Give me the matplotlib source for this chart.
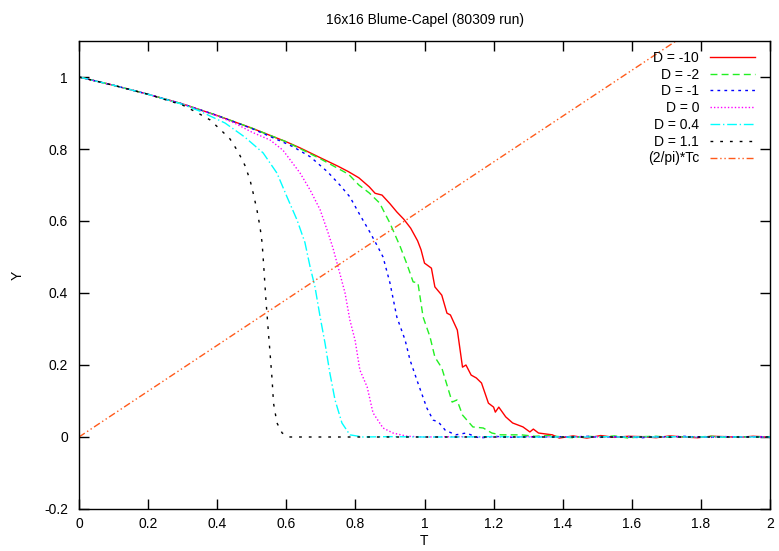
import numpy as np
import matplotlib.pyplot as plt

plt.rcParams['font.family'] = ['Liberation Sans', 'DejaVu Sans']

# shared flat tail T values
tail_T = [1.43, 1.47, 1.51, 1.55, 1.59, 1.63, 1.67, 1.71, 1.75, 1.79, 1.83, 1.87, 1.91, 1.95, 2.0]

# D = -10
T_r = [0, 0.1, 0.2, 0.3, 0.4, 0.5, 0.6, 0.64, 0.7, 0.75, 0.78, 0.81, 0.84, 0.857, 0.877,
       0.9, 0.92, 0.94, 0.96, 0.98, 0.99, 1.0, 1.02, 1.03, 1.05, 1.065, 1.075, 1.095, 1.11,
       1.12, 1.135, 1.15, 1.165, 1.185, 1.2, 1.205, 1.215, 1.235, 1.255, 1.285, 1.305, 1.315,
       1.33, 1.37, 1.39] + tail_T
Y_r = [1.0, 0.977, 0.952, 0.925, 0.893, 0.858, 0.82, 0.803, 0.775, 0.752, 0.737, 0.72, 0.695,
       0.677, 0.672, 0.648, 0.625, 0.605, 0.58, 0.545, 0.52, 0.483, 0.469, 0.417, 0.394, 0.344,
       0.339, 0.297, 0.194, 0.2, 0.172, 0.164, 0.15, 0.094, 0.083, 0.069, 0.083, 0.056, 0.039,
       0.028, 0.014, 0.022, 0.011, 0.006, -0.003,
       0.003, -0.003, 0.004, -0.001, 0.002, 0.001, -0.002, 0.003, 0.0, -0.002, 0.002, 0.001,
       -0.001, 0.002, 0.0]

# D = -2
T_g = [0, 0.1, 0.2, 0.3, 0.4, 0.5, 0.6, 0.7, 0.78, 0.81, 0.84, 0.87, 0.9, 0.93, 0.95, 0.967,
       0.981, 0.996, 1.016, 1.03, 1.05, 1.08, 1.094, 1.11, 1.14, 1.17, 1.195, 1.22, 1.28, 1.32,
       1.36, 1.4] + tail_T
Y_g = [1.0, 0.977, 0.952, 0.925, 0.893, 0.858, 0.82, 0.772, 0.73, 0.7, 0.678, 0.65, 0.594,
       0.528, 0.478, 0.431, 0.428, 0.333, 0.278, 0.222, 0.192, 0.097, 0.103, 0.061, 0.028,
       0.025, 0.011, 0.006, 0.006, 0.002, 0.004, 0.0,
       -0.002, 0.002, 0.0, 0.003, -0.003, 0.001, 0.002, -0.001, 0.001, 0.0, 0.002, -0.001,
       0.001, 0.0, 0.001]

# D = -1
T_b = [0, 0.1, 0.2, 0.3, 0.4, 0.5, 0.6, 0.62, 0.67, 0.72, 0.755, 0.784, 0.813, 0.842, 0.865,
       0.88, 0.9, 0.92, 0.944, 0.958, 0.981, 1.007, 1.025, 1.04, 1.06, 1.09, 1.12, 1.16, 1.2,
       1.25, 1.3, 1.35, 1.4] + tail_T
Y_b = [1.0, 0.977, 0.952, 0.925, 0.893, 0.857, 0.815, 0.806, 0.778, 0.736, 0.7, 0.667, 0.617,
       0.569, 0.528, 0.5, 0.428, 0.333, 0.269, 0.214, 0.15, 0.08, 0.047, 0.042, 0.019, 0.006,
       0.011, -0.003, 0.002, -0.001, 0.001, 0.0, 0.001,
       0.0, 0.002, -0.001, 0.001, 0.0, -0.002, 0.001, 0.0, 0.002, 0.0, -0.001, 0.001, 0.0,
       0.001, 0.0]

# D = 0
T_m = [0, 0.1, 0.2, 0.3, 0.4, 0.45, 0.5, 0.553, 0.59, 0.64, 0.669, 0.698, 0.721, 0.735, 0.75,
       0.77, 0.784, 0.799, 0.813, 0.834, 0.851, 0.88, 0.909, 0.95, 1.0, 1.1, 1.2, 1.3, 1.4] + tail_T
Y_m = [1.0, 0.977, 0.952, 0.925, 0.892, 0.872, 0.847, 0.825, 0.797, 0.733, 0.686, 0.631, 0.567,
       0.525, 0.472, 0.4, 0.325, 0.269, 0.186, 0.139, 0.067, 0.025, 0.011, 0.002, 0.0, 0.001,
       0.0, 0.001, 0.0,
       0.0, 0.001, 0.0, 0.0, 0.001, 0.0, 0.0, 0.001, 0.0, 0.0, 0.0, 0.001, 0.0, 0.0, 0.0]

# D = 0.4
T_c = [0, 0.1, 0.2, 0.3, 0.35, 0.423, 0.48, 0.533, 0.573, 0.602, 0.631, 0.654, 0.669, 0.683,
       0.698, 0.712, 0.726, 0.741, 0.761, 0.784, 0.822, 0.9, 1.0, 1.1, 1.2, 1.3, 1.4] + tail_T
Y_c = [1.0, 0.977, 0.952, 0.924, 0.905, 0.872, 0.833, 0.789, 0.733, 0.667, 0.603, 0.54, 0.472,
       0.417, 0.333, 0.261, 0.178, 0.103, 0.039, 0.006, 0.0, 0.001, 0.0, 0.0, 0.001, 0.0, 0.0,
       0.0, 0.0, 0.001, 0.0, 0.0, 0.0, 0.0, 0.001, 0.0, 0.0, 0.0, 0.0, 0.0, 0.0, 0.0]

# D = 1.1
T_k = [0, 0.1, 0.2, 0.3, 0.344, 0.379, 0.408, 0.437, 0.46, 0.48, 0.495, 0.504, 0.515, 0.524,
       0.53, 0.535, 0.541, 0.547, 0.553, 0.559, 0.563, 0.573, 0.588, 0.611, 0.7, 0.8, 0.9,
       1.0, 1.1, 1.2, 1.3, 1.4] + tail_T
Y_k = [1.0, 0.977, 0.952, 0.922, 0.9, 0.881, 0.855, 0.828, 0.793, 0.755, 0.714, 0.678, 0.631,
       0.583, 0.539, 0.47, 0.381, 0.306, 0.233, 0.158, 0.094, 0.039, 0.011, 0.0, 0.0, 0.0,
       0.0, 0.0, 0.0, 0.0, 0.0, 0.0,
       0.0, 0.0, 0.0, 0.0, 0.0, 0.0, 0.0, 0.0, 0.0, 0.0, 0.0, 0.0, 0.0, 0.0, 0.0]

# (2/pi)*Tc line, end points
T_tc = [0.0, 2.0]
Y_tc = [0.0, 1.2732]

fig = plt.figure(figsize=(7.79, 5.51), dpi=100)
ax = fig.add_axes([79 / 779, 42 / 551, 691 / 779, 468 / 551])

lw = 1.0
ax.plot(T_r, Y_r, color='#ff0000', lw=lw, label='D = -10')
ax.plot(T_g, Y_g, color='#22f022', lw=lw, dashes=(5, 3), label='D = -2')
ax.plot(T_b, Y_b, color='#0000ff', lw=lw, dashes=(2, 3), label='D = -1')
ax.plot(T_m, Y_m, color='#ff00ff', lw=lw, dashes=(1, 1.5), label='D = 0')
ax.plot(T_c, Y_c, color='#00ffff', lw=lw, dashes=(7, 2, 1, 2), label='D = 0.4')
ax.plot(T_k, Y_k, color='#000000', lw=lw, dashes=(2, 5), label='D = 1.1')
ax.plot(T_tc, Y_tc, color='#ff5a1a', lw=lw, dashes=(5, 2, 1, 2, 1, 2), label='(2/pi)*Tc')

ax.set_xlim(0, 2)
ax.set_ylim(-0.2, 1.1)
ax.set_xticks(np.arange(0, 2.01, 0.2))
ax.set_xticklabels(['0', '0.2', '0.4', '0.6', '0.8', '1', '1.2', '1.4', '1.6', '1.8', '2'])
ax.set_yticks([-0.2, 0, 0.2, 0.4, 0.6, 0.8, 1])
ax.set_yticklabels(['-0.2', '0', '0.2', '0.4', '0.6', '0.8', '1'])
ax.tick_params(direction='in', length=7, width=1, top=True, right=True, labelsize=10)
ax.tick_params(axis='x', pad=6)
ax.tick_params(axis='y', pad=8)
for s in ax.spines.values():
    s.set_linewidth(1)

ax.set_xlabel('T', fontsize=10, labelpad=2)
ax.set_ylabel('Y', fontsize=10, labelpad=14)
ax.set_title('16x16 Blume-Capel (80309 run)', fontsize=10, pad=12)

ax.legend(loc='upper right', frameon=False, markerfirst=False, fontsize=10,
          handlelength=3.2, labelspacing=0.2, borderaxespad=0.3, handletextpad=0.8,
          bbox_to_anchor=(0.992, 1.0))

fig.savefig('out.png', dpi=100)
